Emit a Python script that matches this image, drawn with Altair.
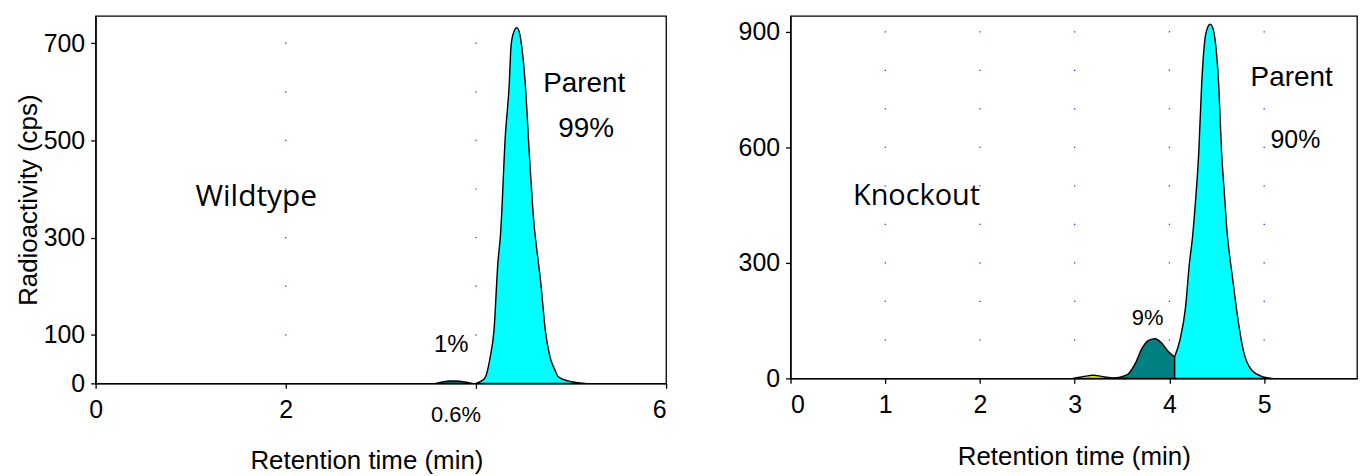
import altair as alt
import pandas as pd

# ---------------- data ----------------
# Wildtype chromatogram
wt_minor_t = [3.58, 3.65, 3.72, 3.80, 3.88, 3.96]
wt_minor_v = [0, 3, 5, 5, 3, 0]
wt_parent_t = [4.00, 4.05, 4.10, 4.15, 4.19, 4.23, 4.26, 4.31, 4.35, 4.37, 4.40,
               4.43, 4.46, 4.48, 4.52, 4.56, 4.61, 4.65, 4.68, 4.73, 4.78, 4.83,
               4.87, 4.97, 5.05, 5.15]
wt_parent_v = [0, 4, 13, 54, 109, 245, 310, 512, 614, 696, 724,
               732, 720, 696, 614, 478, 330, 260, 211, 109, 54, 28,
               13, 5, 2, 0]

# Knockout chromatogram
ko_minor_t = [2.98, 3.05, 3.12, 3.19, 3.27, 3.33, 3.40]
ko_minor_v = [0, 3, 6, 8, 6, 3, 1]
ko_metab_t = [3.40, 3.48, 3.53, 3.57, 3.64, 3.71, 3.78, 3.85, 3.92, 3.99, 4.055]
ko_metab_v = [1, 3, 7, 13, 39, 78, 99, 103, 91, 69, 56]
ko_parent_t = [4.055, 4.11, 4.17, 4.21, 4.245, 4.27, 4.31, 4.34, 4.376, 4.41, 4.43,
               4.455, 4.48, 4.52, 4.55, 4.58, 4.61, 4.64, 4.67, 4.70, 4.73, 4.78,
               4.87, 4.99, 5.09]
ko_parent_v = [56, 99, 185, 297, 370, 444, 590, 763, 883, 915, 920,
               912, 883, 763, 590, 480, 375, 310, 254, 195, 142, 73,
               21, 4, 0]

segments = ["minor", "metabolite", "parent"]
segment_colors = ["#ffff00", "#008080", "#00ffff"]

# axes
left_x_ticks = [0, 2, 4, 6]
left_y_ticks = [0, 100, 300, 500, 700]
right_x_ticks = [0, 1, 2, 3, 4, 5]
right_y_ticks = [0, 300, 600, 900]
left_x_domain = [0, 6]
left_y_domain = [0, 756]
right_x_domain = [0, 5.98]
right_y_domain = [0, 941]

# dotted grid
left_grid_x = [2, 4]
left_grid_y = [100, 200, 300, 400, 500, 600, 700]
right_grid_x = [1, 2, 3, 4, 5]
right_grid_y = [100, 200, 300, 400, 500, 600, 700, 800, 900]

# annotations (data coordinates)
left_group = {"text": ["Wildtype"], "t": [1.69], "v": [365]}
left_big = {"text": ["Parent", "99%"], "t": [5.14, 5.16], "v": [600, 508]}
left_small = {"text": ["1%"], "t": [3.74], "v": [64]}
left_tiny = {"text": ["0.6%"], "t": [3.79], "v": [-80]}
right_group = {"text": ["Knockout"], "t": [1.33], "v": [451]}
right_big = {"text": ["Parent"], "t": [5.29], "v": [758]}
right_small = {"text": ["90%"], "t": [5.33], "v": [599]}
right_tiny = {"text": ["9%"], "t": [3.77], "v": [138]}

XTITLE = "Retention time (min)"
YTITLE = "Radioactivity (cps)"


def trace_df(parts):
    rows = []
    for seg, ts, vs in parts:
        for t, v in zip(ts, vs):
            rows.append({"t": t, "v": v, "seg": seg})
    return pd.DataFrame(rows)


def grid_df(xs, ys):
    return pd.DataFrame([{"t": x, "v": y} for x in xs for y in ys])


def panel(trace, gx, gy, xdom, ydom, xticks, yticks, w, h,
          ytitle, xaxis_extra, texts):
    xs = alt.Scale(domain=xdom, nice=False, zero=False)
    ys = alt.Scale(domain=ydom, nice=False, zero=False)
    xaxis = alt.Axis(values=xticks, title=XTITLE, format="d", **xaxis_extra)
    yaxis = alt.Axis(values=yticks, title=ytitle, format="d")

    area = alt.Chart(trace).mark_area(
        stroke="black", strokeWidth=1.4, strokeJoin="round", interpolate="monotone"
    ).encode(
        x=alt.X("t:Q", scale=xs, axis=xaxis),
        y=alt.Y("v:Q", scale=ys, axis=yaxis, stack=None),
        color=alt.Color("seg:N", scale=alt.Scale(domain=segments, range=segment_colors), legend=None),
    )
    grid = alt.Chart(grid_df(gx, gy)).mark_square(size=1.5, color="#0000ff", opacity=0.9).encode(
        x=alt.X("t:Q", scale=xs), y=alt.Y("v:Q", scale=ys)
    )
    layers = [grid, area]
    for d, font, size in texts:
        layers.append(
            alt.Chart(pd.DataFrame(d)).mark_text(
                font=font, fontSize=size, color="black", baseline="alphabetic", align="center"
            ).encode(x=alt.X("t:Q", scale=xs), y=alt.Y("v:Q", scale=ys), text="text:N")
        )
    return alt.layer(*layers).properties(width=w, height=h)


left = panel(
    trace_df([("metabolite", wt_minor_t, wt_minor_v), ("parent", wt_parent_t, wt_parent_v)]),
    left_grid_x, left_grid_y, left_x_domain, left_y_domain,
    left_x_ticks, left_y_ticks, 573, 369, YTITLE,
    {"labelExpr": "datum.value == 4 ? '' : datum.label",
     "labelAlign": {"condition": {"test": "datum.value == 6", "value": "right"}, "value": "center"},
     "titleX": 272},
    [(left_group, "Open Sans", 30), (left_big, "Liberation Sans", 28),
     (left_small, "Liberation Sans", 24), (left_tiny, "Liberation Sans", 22)],
)

right = panel(
    trace_df([("minor", ko_minor_t, ko_minor_v), ("metabolite", ko_metab_t, ko_metab_v),
              ("parent", ko_parent_t, ko_parent_v)]),
    right_grid_x, right_grid_y, right_x_domain, right_y_domain,
    right_x_ticks, right_y_ticks, 569, 364, None, {},
    [(right_group, "Open Sans", 29), (right_big, "Liberation Sans", 28),
     (right_small, "Liberation Sans", 25), (right_tiny, "Liberation Sans", 22)],
)

chart = alt.hconcat(left, right, spacing=125, bounds="flush").properties(
    padding={"left": 6, "top": 6, "right": 0, "bottom": 0}
).configure_view(
    stroke="black", strokeWidth=1.3
).configure_axis(
    grid=False, domainColor="black", domainWidth=1.3, tickColor="black", tickWidth=1.3,
    tickSize=5, labelColor="black", titleColor="black", labelFont="Liberation Sans",
    titleFont="Liberation Sans", labelFontSize=25, titleFontSize=26,
    titleFontWeight="normal", labelPadding=9,
).configure_axisX(titlePadding=26).configure_axisY(labelPadding=6, titlePadding=2)

chart.save("out.html", embed_options={"renderer": "svg", "actions": False})
